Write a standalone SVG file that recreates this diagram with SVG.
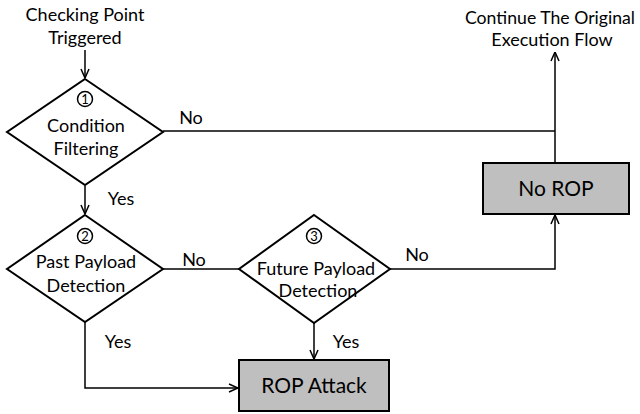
<svg xmlns="http://www.w3.org/2000/svg" width="640" height="414" viewBox="0 0 640 414">
<defs>
<style>
text{font-family:Lato,"Open Sans","Liberation Sans",sans-serif;fill:#000;text-anchor:middle}
.t{font-size:18px}
.b{font-size:21px}
.d{fill:#fff;stroke:#000;stroke-width:2}
.r{fill:#bfbfbf;stroke:#000;stroke-width:2}
.c{fill:none;stroke:#000;stroke-width:1.5}
.n{fill:#fff;stroke:#000;stroke-width:1.5}
.cn{font-size:13px}
</style>
<marker id="ah" viewBox="0 0 10 10" refX="10" refY="5" markerWidth="10" markerHeight="10" markerUnits="userSpaceOnUse" orient="auto">
<polyline points="1,1 10,5 1,9" fill="none" stroke="#000" stroke-width="1.5"/>
</marker>
</defs>
<g id="labels-top">
<text class="t" x="85" y="21">Checking Point</text>
<text class="t" x="85" y="44">Triggered</text>
<text class="t" x="550" y="24" textLength="170" lengthAdjust="spacingAndGlyphs">Continue The Original</text>
<text class="t" x="552" y="46">Execution Flow</text>
</g>
<g id="connectors">
<line class="c" x1="85" y1="50" x2="85" y2="78" marker-end="url(#ah)"/>
<line class="c" x1="85" y1="186" x2="85" y2="214" marker-end="url(#ah)"/>
<polyline class="c" points="163,131 555,131"/>
<line class="c" x1="555" y1="163" x2="555" y2="52" marker-end="url(#ah)"/>
<line class="c" x1="163" y1="269" x2="239" y2="269"/>
<polyline class="c" points="390,269 555,269 555,215" marker-end="url(#ah)"/>
<line class="c" x1="314" y1="323" x2="314" y2="359" marker-end="url(#ah)"/>
<polyline class="c" points="85,322 85,388 238,388" marker-end="url(#ah)"/>
<text class="t" x="191" y="124">No</text>
<text class="t" x="121" y="205">Yes</text>
<text class="t" x="194" y="266">No</text>
<text class="t" x="417" y="261">No</text>
<text class="t" x="118" y="348">Yes</text>
<text class="t" x="346" y="348">Yes</text>
</g>
<g id="node1">
<polygon class="d" points="85,79 163,132 85,185 7,132"/>
<circle class="n" cx="85" cy="99" r="7.5"/>
<text class="cn" x="85" y="104">1</text>
<text class="t" x="86" y="132">Condition</text>
<text class="t" x="86" y="155">Filtering</text>
</g>
<g id="node2">
<polygon class="d" points="85,215 163,269 85,322 7,269"/>
<circle class="n" cx="85" cy="236" r="7.5"/>
<text class="cn" x="85" y="241">2</text>
<text class="t" x="86" y="268">Past Payload</text>
<text class="t" x="86" y="292">Detection</text>
</g>
<g id="node3">
<polygon class="d" points="314,215 390,269 314,323 239,269"/>
<circle class="n" cx="314" cy="236" r="7.5"/>
<text class="cn" x="314" y="241">3</text>
<text class="t" x="316" y="275">Future Payload</text>
<text class="t" x="318" y="297">Detection</text>
</g>
<g id="norop">
<rect class="r" x="483" y="163" width="146" height="51"/>
<text class="b" x="556" y="196">No ROP</text>
</g>
<g id="ropattack">
<rect class="r" x="239" y="360" width="150" height="51"/>
<text class="b" x="314" y="393">ROP Attack</text>
</g>
</svg>
